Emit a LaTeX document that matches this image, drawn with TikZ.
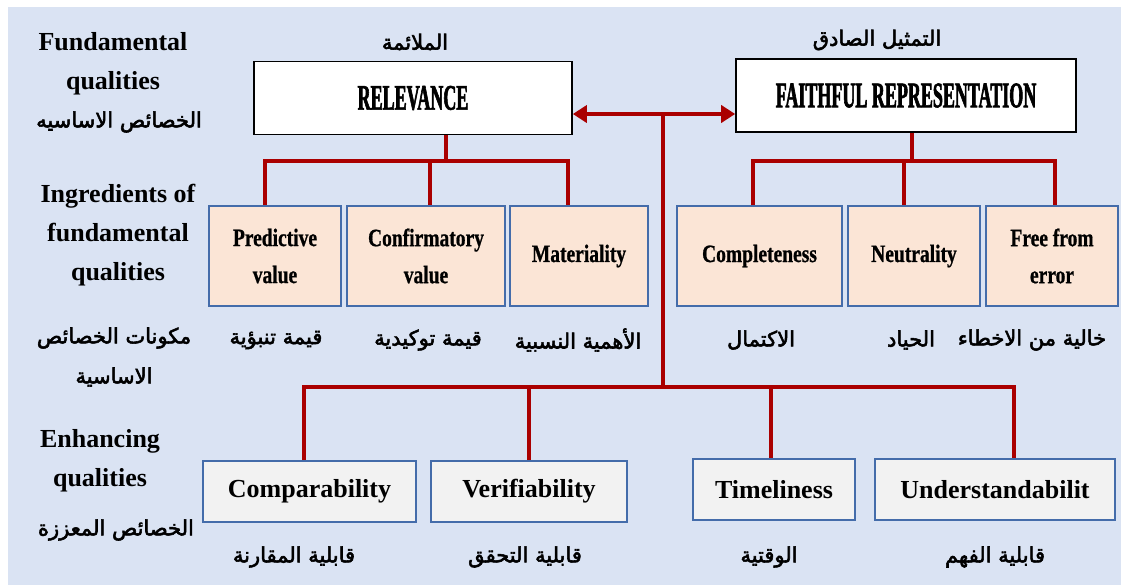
\documentclass[tikz,border=0pt]{standalone}
\usepackage{fontspec}
\usepackage{xcolor}
\usepackage{tikz}
\usetikzlibrary{positioning, arrows.meta, calc}
\setmainfont{Liberation Serif}
\newfontfamily\relfont[FakeStretch=0.5,FakeBold=1.6]{Liberation Serif}
\newfontfamily\ingfont[FakeStretch=0.78,FakeBold=0.8]{Liberation Serif}
\newfontfamily\arabicfont[Script=Arabic,FakeBold=2.6]{DejaVu Sans}
\TeXXeTstate=1
\newcommand{\artext}[1]{\beginR #1\endR}
\definecolor{bgblue}{RGB}{218,227,243}
\definecolor{peach}{RGB}{251,229,214}
\definecolor{boxgray}{RGB}{242,242,242}
\definecolor{boxblue}{RGB}{68,108,170}
\definecolor{linkred}{RGB}{170,0,0}

\begin{document}
\begin{tikzpicture}[x=1pt, y=-1pt,
          topbox/.style={draw=black, fill=white, line width=1.6pt, minimum width=#1, minimum height=73pt, inner sep=0pt, font=\relfont\bfseries\fontsize{36}{40}\selectfont},
          ingbox/.style={draw=boxblue, fill=peach, line width=1.6pt, minimum width=#1, minimum height=100pt, inner sep=0pt, align=center, font=\ingfont\bfseries\fontsize{25}{37}\selectfont},
          enhbox/.style={draw=boxblue, fill=boxgray, line width=1.6pt, minimum width=#1, minimum height=61pt, inner sep=0pt, font=\bfseries\fontsize{26}{30}\selectfont},
          side/.style={align=center, font=\bfseries\fontsize{26}{39}\selectfont},
          arlbl/.style={align=center, font=\arabicfont\fontsize{21}{40}\selectfont},
          link/.style={draw=linkred, line width=3.5pt},
          tip/.style={{Triangle[length=14pt,width=17pt]}-{Triangle[length=14pt,width=17pt]}},
        ]
        \useasboundingbox (0,0) rectangle (1121,587);
        \fill[bgblue] (8,7) rectangle (1121,585);
        % row labels on the left
        \node[side] (fundq) at (113,64) {Fundamental\\qualities};
        \node[arlbl] (fundar) at (119,122) {\artext{الخصائص الاساسيه}};
        \node[side] (ingq) at (118,235) {Ingredients of\\fundamental\\qualities};
        \node[arlbl] (ingar) at (114,357) {\artext{مكونات الخصائص}\\\artext{الاساسية}};
        \node[side] (enhq) at (100,461) {Enhancing\\qualities};
        \node[arlbl] (enhar) at (116,530) {\artext{الخصائص المعززة}};
        % fundamental qualities
        \node[topbox=318pt] (rel) at (413,98) {RELEVANCE};
        \node[topbox=340pt] (fr) at (906,95.5) {FAITHFUL REPRESENTATION};
        \node[arlbl] (relar) at (415,42) {\artext{الملائمة}};
        \node[arlbl] (frar) at (877,40) {\artext{التمثيل الصادق}};
        % ingredients
        \node[ingbox=132pt] (pred) at (275,256) {Predictive\\value};
        \node[ingbox=158pt] (conf) at (426,256) {Confirmatory\\value};
        \node[ingbox=138pt] (mat) at (579,256) {Materiality};
        \node[ingbox=165pt] (comp) at (759.5,256) {Completeness};
        \node[ingbox=132pt] (neut) at (914,256) {Neutrality};
        \node[ingbox=132pt] (free) at (1052,256) {Free from\\error};
        \node[arlbl] (predar) at (276,340) {\artext{قيمة تنبؤية}};
        \node[arlbl] (confar) at (428,340) {\artext{قيمة توكيدية}};
        \node[arlbl] (matar) at (578,340) {\artext{الأهمية النسبية}};
        \node[arlbl] (compar) at (761,340) {\artext{الاكتمال}};
        \node[arlbl] (neutar) at (911,340) {\artext{الحياد}};
        \node[arlbl] (freear) at (1032,340) {\artext{خالية من الاخطاء}};
        % enhancing qualities
        \node[enhbox=213pt] (compa) at (309.5,491.5) {Comparability};
        \node[enhbox=196pt] (verif) at (529,491.5) {Verifiability};
        \node[enhbox=162pt] (time) at (774,489.5) {Timeliness};
        \node[enhbox=240pt] (under) at (995,489.5) {Understandabilit};
        \node[arlbl] (compaar) at (294,557) {\artext{قابلية المقارنة}};
        \node[arlbl] (verifar) at (525,557) {\artext{قابلية التحقق}};
        \node[arlbl] (timear) at (769,557) {\artext{الوقتية}};
        \node[arlbl] (underar) at (995,557) {\artext{قابلية الفهم}};
        % connectors
        \coordinate (hub) at (663,114);
        \coordinate (relbus) at (446,161);
        \coordinate (frbus) at (912,161);
        \coordinate (enhbus) at (663,387);
        \draw[link, tip] (rel.east |- hub) -- (fr.west |- hub);
        \draw[link] (hub) -- (enhbus);
        \draw[link] (rel.south -| relbus) -- (relbus);
        \draw[link] ([xshift=-10pt]pred.north) |- ([xshift=-11pt]mat.north |- relbus) -- ([xshift=-11pt]mat.north);
        \draw[link] ([xshift=4pt]conf.north) -- ([xshift=4pt]conf.north |- relbus);
        \draw[link] (fr.south -| frbus) -- (frbus);
        \draw[link] ([xshift=-6.5pt]comp.north) |- ([xshift=3pt]free.north |- frbus) -- ([xshift=3pt]free.north);
        \draw[link] ([xshift=-10pt]neut.north) -- ([xshift=-10pt]neut.north |- frbus);
        \draw[link] ([xshift=-5.5pt]compa.north) |- ([xshift=19pt]under.north |- enhbus) -- ([xshift=19pt]under.north);
        \draw[link] (verif.north) -- (verif.north |- enhbus);
        \draw[link] ([xshift=-3pt]time.north) -- ([xshift=-3pt]time.north |- enhbus);
        \end{tikzpicture}
\end{document}
